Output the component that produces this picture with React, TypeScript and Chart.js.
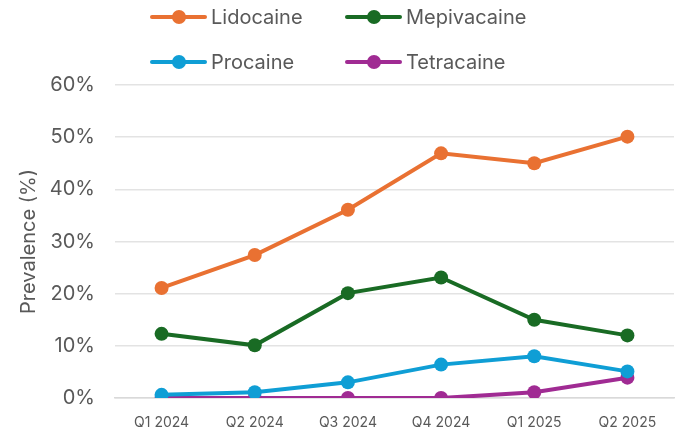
import React, { useEffect, useRef } from "react";
import { Chart, registerables } from "chart.js";

Chart.register(...registerables);

const categories = ["Q1 2024", "Q2 2024", "Q3 2024", "Q4 2024", "Q1 2025", "Q2 2025"];
const lidocaine = [21.1, 27.4, 36.1, 46.9, 45.0, 50.1];
const mepivacaine = [12.3, 10.1, 20.1, 23.1, 15.0, 12.0];
const procaine = [0.6, 1.1, 3.0, 6.4, 8.0, 5.1];
const tetracaine = [0.0, 0.0, 0.0, 0.0, 1.1, 3.9];
const seriesNames = ["Lidocaine", "Mepivacaine", "Procaine", "Tetracaine"];
const seriesColors = ["#E97132", "#196B24", "#0F9ED5", "#A02B93"];
const yTitle = "Prevalence (%)";

const FONT = "Inter, 'Open Sans', sans-serif";

const legendPlugin = {
  id: "customLegend",
  afterDraw(chart: any) {
    const ctx = chart.ctx;
    const cols = [152, 347];
    const rows = [17, 62];
    chart.data.datasets.forEach((ds: any, i: number) => {
      const x0 = cols[i % 2];
      const y = rows[Math.floor(i / 2)];
      ctx.save();
      ctx.strokeStyle = ds.borderColor;
      ctx.lineWidth = 4;
      ctx.lineCap = "round";
      ctx.beginPath();
      ctx.moveTo(x0, y);
      ctx.lineTo(x0 + 53, y);
      ctx.stroke();
      ctx.fillStyle = ds.borderColor;
      ctx.beginPath();
      ctx.arc(x0 + 27, y, 7, 0, Math.PI * 2);
      ctx.fill();
      ctx.fillStyle = "#595959";
      ctx.font = `20px ${FONT}`;
      ctx.textBaseline = "middle";
      ctx.textAlign = "left";
      ctx.fillText(ds.label, x0 + 59, y + 1);
      ctx.restore();
    });
  },
};

export default function App() {
  const ref = useRef<HTMLCanvasElement>(null);
  useEffect(() => {
    document.body.style.margin = "0";
    const values = [lidocaine, mepivacaine, procaine, tetracaine];
    const chart = new Chart(ref.current!, {
      type: "line",
      data: {
        labels: categories,
        datasets: values.map((v, i) => ({
          label: seriesNames[i],
          data: v,
          borderColor: seriesColors[i],
          backgroundColor: seriesColors[i],
          borderWidth: 4,
          pointRadius: 7,
          pointHoverRadius: 7,
          pointBorderWidth: 0,
          tension: 0,
        })),
      },
      options: {
        animation: false,
        responsive: false,
        layout: { padding: { top: 85, right: 2, left: 0, bottom: 0 } },
        plugins: { legend: { display: false }, tooltip: { enabled: false } },
        scales: {
          x: {
            offset: true,
            grid: { display: false },
            border: { color: "#D9D9D9", width: 1.5 },
            ticks: { color: "#595959", font: { family: FONT, size: 14 }, padding: 8, maxRotation: 0 },
            afterFit: (s: any) => { s.height = 29; },
          },
          y: {
            min: 0,
            max: 60,
            ticks: {
              stepSize: 10,
              color: "#595959",
              font: { family: FONT, size: 20 },
              padding: 20,
              callback: (v: any) => v + "%",
            },
            grid: { color: "#E3E3E3", lineWidth: 1.5, drawTicks: false },
            border: { display: false },
            title: {
              display: true,
              text: yTitle,
              color: "#595959",
              font: { family: FONT, size: 20, weight: "normal" },
              padding: { top: 17, bottom: 0 },
            },
            afterFit: (s: any) => { s.width = 115; },
          },
        },
      },
      plugins: [legendPlugin],
    });
    return () => chart.destroy();
  }, []);
  return (
    <div style={{ width: 681, height: 430 }}>
      <canvas ref={ref} width={681} height={430} />
    </div>
  );
}
